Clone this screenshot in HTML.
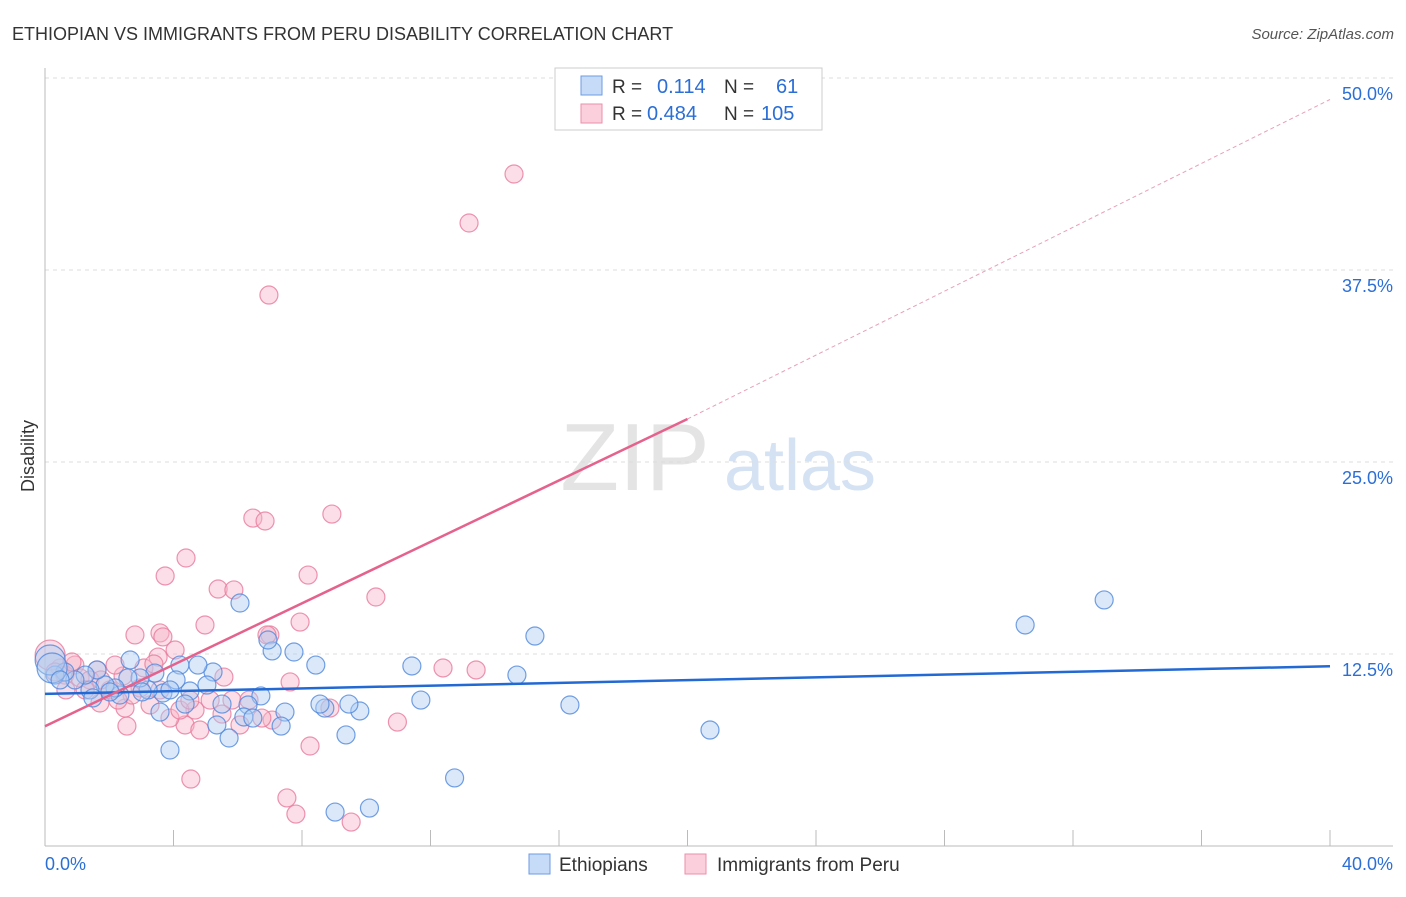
<!DOCTYPE html>
<html><head><meta charset="utf-8"><style>
body{margin:0;background:#fff;font-family:"Liberation Sans",sans-serif;}
svg text{font-family:"Liberation Sans",sans-serif;}
</style></head><body>
<svg id="chart" width="1406" height="892" viewBox="0 0 1406 892">
<text x="12" y="40" font-size="18" fill="#333">ETHIOPIAN VS IMMIGRANTS FROM PERU DISABILITY CORRELATION CHART</text>
<text x="1394" y="39" font-size="15" fill="#555" font-style="italic" text-anchor="end">Source: ZipAtlas.com</text>
<text x="34" y="456" font-size="18" fill="#333" text-anchor="middle" transform="rotate(-90 34 456)">Disability</text>
<g><text x="635" y="490" font-size="96" fill="#e4e4e4" font-family="Liberation Serif" text-anchor="middle">ZIP</text><text x="800" y="490" font-size="72" fill="#d4e2f4" text-anchor="middle">atlas</text></g>
<g id="grid"></g><g id="axes"></g><g id="pts"></g><g id="lines"></g>
<g>
<rect x="555" y="68" width="267" height="62" fill="#fff" stroke="#ccc"/>
<rect x="581" y="76" width="21" height="19" fill="#c6dbf7" stroke="#6c9be3"/>
<rect x="581" y="104" width="21" height="19" fill="#fbd0dc" stroke="#eb8fab"/>
<text x="612" y="93" font-size="19" fill="#333">R = </text><text x="657" y="93" font-size="20" fill="#2b6fd6">0.114</text>
<text x="724" y="93" font-size="19" fill="#333">N = </text><text x="776" y="93" font-size="20" fill="#2b6fd6">61</text>
<text x="612" y="120" font-size="19" fill="#333">R = </text><text x="647" y="120" font-size="20" fill="#2b6fd6">0.484</text>
<text x="724" y="120" font-size="19" fill="#333">N = </text><text x="761" y="120" font-size="20" fill="#2b6fd6">105</text>
</g>
<g>
<rect x="529" y="854" width="21" height="20" fill="#c6dbf7" stroke="#6c9be3"/>
<text x="559" y="871" font-size="19" fill="#333">Ethiopians</text>
<rect x="685" y="854" width="21" height="20" fill="#fbd0dc" stroke="#eb8fab"/>
<text x="717" y="871" font-size="19" fill="#333">Immigrants from Peru</text>
</g>
</svg>
<script>
const yTicks=[12.5,25,37.5,50];
const yTickLabels=["12.5%","25.0%","37.5%","50.0%"];
const xTickLabels=["0.0%","40.0%"];
const blueX=[15.25,32.97,30.51,20.7,16.34,14.69,12.75,11.7,11.42,10.1,9.03,9.8,9.46,9.37,8.71,8.56,8.43,7.75,7.07,6.94,7.47,7.35,6.72,6.32,6.19,6.07,5.73,5.35,5.51,5.23,5.04,4.76,4.51,4.36,4.2,4.08,3.89,3.67,3.58,3.42,3.21,2.96,2.65,2.58,2.33,2.18,1.87,1.62,1.4,1.25,0.93,0.62,0.31,0.16,0.22,2.02,3.02,6.47,1.49,0.47,3.89];
const blueY=[13.67,16.02,14.39,7.55,9.18,11.13,4.43,9.5,11.72,2.47,2.21,8.79,9.24,7.23,8.98,9.24,11.78,12.63,12.7,13.41,8.72,7.81,9.77,9.18,8.4,15.82,7.03,7.88,9.24,11.33,10.48,11.78,10.09,9.24,11.78,10.81,6.25,9.96,8.72,11.26,10.16,10.94,12.11,10.94,9.83,10.29,10.48,11.46,10.16,11.13,10.81,11.33,11.13,12.11,11.59,10.03,10.03,8.33,9.64,10.81,10.16];
const pinkX=[16.37,14.6,13.2,6.97,6.47,6.85,8.93,4.39,3.74,8.19,5.39,5.88,10.3,4.98,7.0,7.94,3.58,3.67,2.8,6.91,4.05,3.52,12.39,13.42,5.57,7.63,10.97,8.25,4.54,7.53,7.81,9.53,2.55,4.36,4.82,6.07,7.07,8.87,5.82,4.67,3.89,3.27,2.49,1.71,2.02,2.96,2.43,3.08,3.39,2.18,1.62,0.93,0.47,0.16,0.31,0.62,1.09,1.4,0.84,1.74,2.71,3.58,4.2,5.14,5.51,6.75,6.35,4.51,2.27,1.25,0.65];
const pinkY=[48.96,43.75,40.56,35.87,21.35,21.16,21.61,18.75,17.58,17.64,16.73,16.67,16.21,14.39,13.74,14.58,13.87,13.61,13.74,13.74,12.76,12.3,11.59,11.46,11.0,10.68,8.07,6.51,4.36,3.13,2.08,1.56,7.81,7.88,7.55,7.88,8.2,8.98,9.5,8.85,8.33,9.18,8.98,9.31,10.16,10.29,11.07,11.59,11.85,11.78,11.46,11.78,11.59,12.43,11.33,11.13,10.94,10.81,11.98,10.81,9.83,10.16,8.85,9.5,8.59,8.33,9.5,9.5,9.5,10.16,10.16];
const blueLine=[9.9,11.7];
const pinkLine=[7.8,27.8,48.6];
const NS="http://www.w3.org/2000/svg";
const X0=45,X1=1330,Y0=846,PPY=15.36;
function sx(v){return X0+(X1-X0)*v/40;}
function sy(v){return Y0-v*PPY;}
function mk(tag,attrs,parent){const e=document.createElementNS(NS,tag);for(const k in attrs)e.setAttribute(k,attrs[k]);document.getElementById(parent).appendChild(e);return e;}
yTicks.forEach((t,i)=>{
 const g=mk('line',{x1:X0,x2:1393,y1:sy(t),y2:sy(t),stroke:'#ddd','stroke-dasharray':'4,4'},'grid');
 
 
 const l=mk('text',{x:1393,y:sy(t)+22,'font-size':18,fill:'#2b6fd6','text-anchor':'end'},'grid');
 l.textContent=yTickLabels[i];
 
 
});
const ax=mk('line',{x1:X0,x2:X0,y1:68,y2:Y0,stroke:'#bbb'},'axes');


const bx=mk('line',{x1:X0,x2:1393,y1:Y0,y2:Y0,stroke:'#bbb'},'axes');


for(let i=1;i<=10;i++){
 const t=mk('line',{x1:sx(i*4),x2:sx(i*4),y1:830,y2:Y0,stroke:'#bbb'},'axes');
 
 
}
const xl0=mk('text',{x:45,y:870,'font-size':18,fill:'#2b6fd6'},'axes');xl0.textContent=xTickLabels[0];


const xl1=mk('text',{x:1393,y:870,'font-size':18,fill:'#2b6fd6','text-anchor':'end'},'axes');xl1.textContent=xTickLabels[1];


function pts(xs,ys,fill,stroke,name){
 xs.forEach((x,i)=>{
  const r=(x<0.25)?15:9;
  const c=mk('circle',{cx:sx(x),cy:sy(ys[i]),r:r,fill:fill,'fill-opacity':0.45,stroke:stroke,'stroke-opacity':0.8,'stroke-width':1.2},'pts');
  
  
 });
}
pts(pinkX,pinkY,'#f7b6c9','#e8799c','peru-point');
pts(blueX,blueY,'#aecbf2','#4f87dc','ethiopian-point');
const bl=mk('line',{x1:sx(0),y1:sy(blueLine[0]),x2:sx(40),y2:sy(blueLine[1]),stroke:'#2269d3','stroke-width':2.5},'lines');


const pl=mk('line',{x1:sx(0),y1:sy(pinkLine[0]),x2:sx(20),y2:sy(pinkLine[1]),stroke:'#e5628d','stroke-width':2.5},'lines');


const pd=mk('line',{x1:sx(20),y1:sy(pinkLine[1]),x2:sx(40),y2:sy(pinkLine[2]),stroke:'#e8a0b8','stroke-width':1,'stroke-dasharray':'4,3'},'lines');


</script>
</body></html>
